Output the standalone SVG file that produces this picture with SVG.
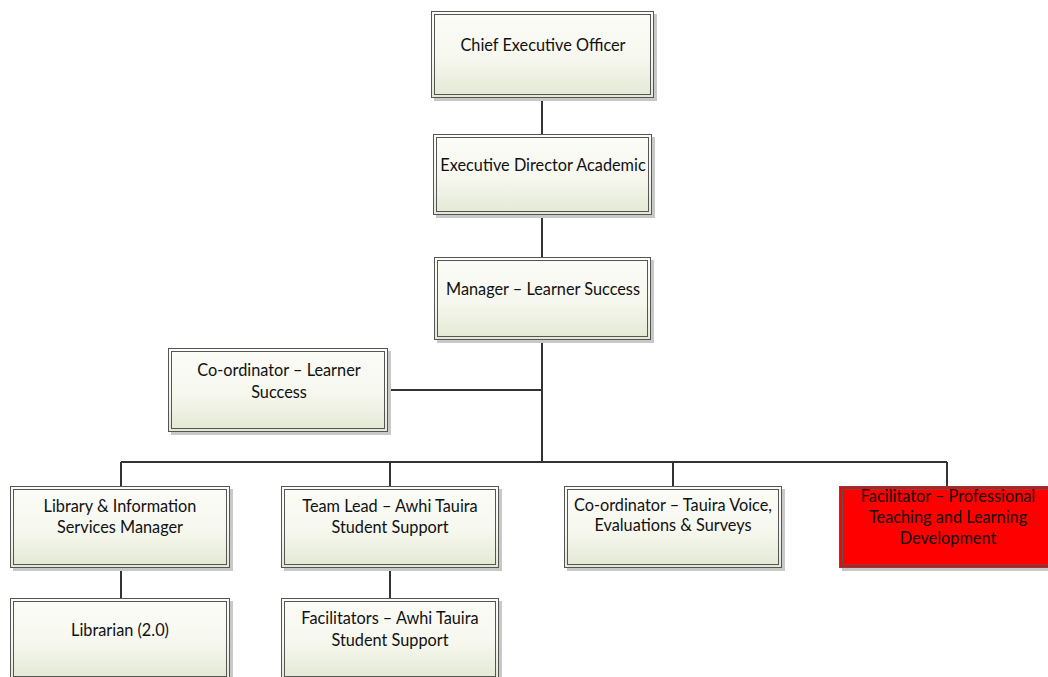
<svg xmlns="http://www.w3.org/2000/svg" width="1048" height="677" viewBox="0 0 1048 677">
<defs>
<linearGradient id="g" x1="0" y1="0" x2="0" y2="1">
<stop offset="0" stop-color="#fcfcf8"/>
<stop offset="0.55" stop-color="#f6f7ee"/>
<stop offset="1" stop-color="#e3e8d4"/>
</linearGradient>
<style>
.sh{fill:#c8c8c8}
.o{fill:url(#g);stroke:#555;stroke-width:1}
.i{fill:none;stroke:#555;stroke-width:1}
.or{fill:#ff0000;stroke:#555;stroke-width:1}
.c{fill:none;stroke:#333;stroke-width:2}
text{font-family:Lato,"Liberation Sans",sans-serif;font-size:16.3px;fill:#111;text-anchor:middle}
</style>
</defs>
<rect width="1048" height="677" fill="#fff"/>
<g id="connectors">
<path class="c" d="M542 98V134M542 215V257M542 340V462M388 390H542M121 462H947M121 462V486M390 462V486M673 462V486M947 462V486M121 568V598M390 568V598"/>
</g>
<g id="ceo">
<rect class="sh" x="434" y="14" width="223" height="87"/>
<rect class="o" x="431.5" y="11.5" width="222" height="86"/>
<rect class="i" x="434.5" y="14.5" width="216" height="80"/>
<text x="543" y="51">Chief Executive Officer</text>
</g>
<g id="eda">
<rect class="sh" x="436" y="137" width="219" height="81"/>
<rect class="o" x="433.5" y="134.5" width="218" height="80"/>
<rect class="i" x="436.5" y="137.5" width="212" height="74"/>
<text x="543" y="171">Executive Director Academic</text>
</g>
<g id="mls">
<rect class="sh" x="437" y="260" width="217" height="83"/>
<rect class="o" x="434.5" y="257.5" width="216" height="82"/>
<rect class="i" x="437.5" y="260.5" width="210" height="76"/>
<text x="543" y="295">Manager – Learner Success</text>
</g>
<g id="cls">
<rect class="sh" x="171" y="351" width="220" height="84"/>
<rect class="o" x="168.5" y="348.5" width="219" height="83"/>
<rect class="i" x="171.5" y="351.5" width="213" height="77"/>
<text x="279" y="376">Co-ordinator – Learner</text>
<text x="279" y="398">Success</text>
</g>
<g id="lib">
<rect class="sh" x="13" y="489" width="220" height="82"/>
<rect class="o" x="10.5" y="486.5" width="219" height="81"/>
<rect class="i" x="13.5" y="489.5" width="213" height="75"/>
<text x="120" y="512">Library &amp; Information</text>
<text x="120" y="533">Services Manager</text>
</g>
<g id="tl">
<rect class="sh" x="284" y="489" width="218" height="82"/>
<rect class="o" x="281.5" y="486.5" width="217" height="81"/>
<rect class="i" x="284.5" y="489.5" width="211" height="75"/>
<text x="390" y="512">Team Lead – Awhi Tauira</text>
<text x="390" y="533">Student Support</text>
</g>
<g id="ctv">
<rect class="sh" x="567" y="489" width="218" height="82"/>
<rect class="o" x="564.5" y="486.5" width="217" height="81"/>
<rect class="i" x="567.5" y="489.5" width="211" height="75"/>
<text x="673" y="511">Co-ordinator – Tauira Voice,</text>
<text x="673" y="531">Evaluations &amp; Surveys</text>
</g>
<g id="fptld">
<rect class="sh" x="842" y="489" width="218" height="82"/>
<rect class="or" x="839.5" y="486.5" width="217" height="81"/>
<rect class="i" x="842.5" y="489.5" width="211" height="75"/>
<text x="948" y="502">Facilitator – Professional</text>
<text x="948" y="523">Teaching and Learning</text>
<text x="948" y="544">Development</text>
</g>
<g id="librarian">
<rect class="sh" x="13" y="601" width="220" height="82"/>
<rect class="o" x="10.5" y="598.5" width="219" height="81"/>
<rect class="i" x="13.5" y="601.5" width="213" height="75"/>
<text x="120" y="636">Librarian (2.0)</text>
</g>
<g id="fac">
<rect class="sh" x="284" y="601" width="218" height="82"/>
<rect class="o" x="281.5" y="598.5" width="217" height="81"/>
<rect class="i" x="284.5" y="601.5" width="211" height="75"/>
<text x="390" y="624">Facilitators – Awhi Tauira</text>
<text x="390" y="646">Student Support</text>
</g>
</svg>
